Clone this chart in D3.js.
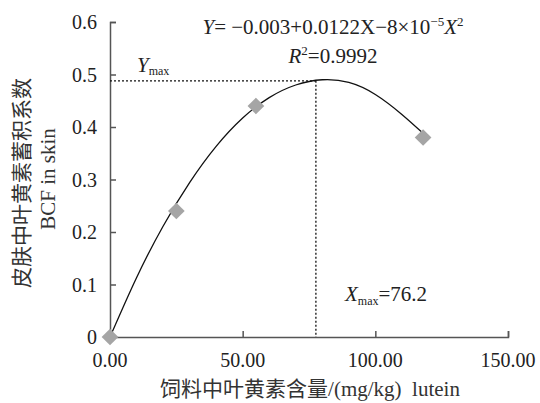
<!DOCTYPE html>
<html>
<head>
<meta charset="utf-8">
<script src="https://cdn.jsdelivr.net/npm/d3@7"></script>
<style>
  body { margin: 0; background: #fff; }
  svg text { font-family: "Times New Roman", "Liberation Serif", "DejaVu Serif", "Noto Sans CJK SC", serif; }
</style>
</head>
<body>
<svg width="540" height="403"></svg>
<script>
// measured points
var feedLutein = [0, 25, 55, 118]
var bcf = [0, 0.24, 0.44, 0.38]

// fitted curve
var curveX = [0, 10, 20, 30, 40, 50, 60, 70, 80, 90, 100, 110, 118]
var curveY = [0, 0.113, 0.211, 0.294, 0.363, 0.417, 0.456, 0.480, 0.490, 0.485, 0.462, 0.424, 0.388]

var xMaxLine = 77.6
var yMaxLine = 0.488

var xTicks = [0, 50, 100, 150]
var yTicks = [0, 0.1, 0.2, 0.3, 0.4, 0.5, 0.6]

var svg = d3.select("svg")
var x = d3.scaleLinear().domain([0, 150]).range([110, 508])
var y = d3.scaleLinear().domain([0, 0.6]).range([337, 22])

var axisColor = "#555"

// axes
var gx = svg.append("g")
  .attr("transform", `translate(0,${y(0)})`)
  .call(d3.axisTop(x).tickValues(xTicks).tickSize(6).tickFormat(""))
gx.select(".domain").attr("stroke", axisColor).attr("stroke-width", 1.5)
gx.selectAll(".tick line").attr("stroke", axisColor).attr("stroke-width", 1.5)

var gy = svg.append("g")
  .attr("transform", `translate(${x(0)},0)`)
  .call(d3.axisRight(y).tickValues(yTicks).tickSize(6).tickFormat(""))
gy.select(".domain").attr("stroke", axisColor).attr("stroke-width", 1.5)
gy.selectAll(".tick line").attr("stroke", axisColor).attr("stroke-width", 1.5)

// tick labels
svg.append("g").selectAll("text")
  .data(xTicks)
  .join("text")
  .attr("x", d => x(d))
  .attr("y", 367)
  .attr("text-anchor", "middle")
  .attr("font-size", 20)
  .attr("fill", "#222")
  .text(d => d3.format(".2f")(d))

svg.append("g").selectAll("text")
  .data(yTicks)
  .join("text")
  .attr("x", 97)
  .attr("y", d => y(d) + 7)
  .attr("text-anchor", "end")
  .attr("font-size", 20)
  .attr("fill", "#222")
  .text(d => d === 0 ? "0" : d3.format(".1f")(d))

// dashed guides
svg.append("line")
  .attr("x1", x(0)).attr("x2", x(xMaxLine))
  .attr("y1", y(yMaxLine)).attr("y2", y(yMaxLine))
  .attr("stroke", "#111").attr("stroke-width", 1.3).attr("stroke-dasharray", "2,2")
svg.append("line")
  .attr("x1", x(xMaxLine)).attr("x2", x(xMaxLine))
  .attr("y1", y(yMaxLine)).attr("y2", y(0))
  .attr("stroke", "#111").attr("stroke-width", 1.3).attr("stroke-dasharray", "2,2")

// curve
var line = d3.line()
  .x(d => x(d[0]))
  .y(d => y(d[1]))
  .curve(d3.curveNatural)
svg.append("path")
  .datum(d3.zip(curveX, curveY))
  .attr("d", line)
  .attr("fill", "none")
  .attr("stroke", "#111")
  .attr("stroke-width", 1.3)

// points
svg.append("g").selectAll("path")
  .data(d3.zip(feedLutein, bcf))
  .join("path")
  .attr("transform", d => `translate(${x(d[0])},${y(d[1])}) rotate(45)`)
  .attr("d", d3.symbol(d3.symbolSquare, 140))
  .attr("fill", "#a5a5a5")

// equation
var eq = svg.append("text")
  .attr("x", 333).attr("y", 34)
  .attr("text-anchor", "middle")
  .attr("font-size", 21)
  .attr("fill", "#222")
eq.append("tspan").attr("font-style", "italic").text("Y")
eq.append("tspan").text("= \u22120.003+0.0122X\u22128\u00d710")
eq.append("tspan").attr("font-size", 13).attr("dy", -8).text("\u22125")
eq.append("tspan").attr("font-style", "italic").attr("dy", 8).text("X")
eq.append("tspan").attr("font-size", 13).attr("dy", -8).text("2")

var r2 = svg.append("text")
  .attr("x", 333).attr("y", 63)
  .attr("text-anchor", "middle")
  .attr("font-size", 21)
  .attr("fill", "#222")
r2.append("tspan").attr("font-style", "italic").text("R")
r2.append("tspan").attr("font-size", 13).attr("dy", -8).text("2")
r2.append("tspan").attr("dy", 8).text("=0.9992")

var ymax = svg.append("text")
  .attr("x", 137).attr("y", 72)
  .attr("font-size", 21)
  .attr("fill", "#222")
ymax.append("tspan").attr("font-style", "italic").text("Y")
ymax.append("tspan").attr("font-size", 12).attr("dy", 3).text("max")

var xmax = svg.append("text")
  .attr("x", 345).attr("y", 301)
  .attr("font-size", 21)
  .attr("fill", "#222")
xmax.append("tspan").attr("font-style", "italic").text("X")
xmax.append("tspan").attr("font-size", 12).attr("dy", 4).text("max")
xmax.append("tspan").attr("dy", -4).text("=76.2")

// axis titles
svg.append("text")
  .attr("x", 310).attr("y", 396)
  .attr("text-anchor", "middle")
  .attr("font-size", 21)
  .attr("fill", "#333")
  .attr("xml:space", "preserve")
  .text("饲料中叶黄素含量/(mg/kg)  lutein")

svg.append("text")
  .attr("transform", "translate(29,183) rotate(-90)")
  .attr("text-anchor", "middle")
  .attr("font-size", 21)
  .attr("fill", "#333")
  .text("皮肤中叶黄素蓄积系数")

svg.append("text")
  .attr("transform", "translate(55,179) rotate(-90)")
  .attr("text-anchor", "middle")
  .attr("font-size", 21)
  .attr("fill", "#333")
  .text("BCF in skin")
</script>
</body>
</html>
